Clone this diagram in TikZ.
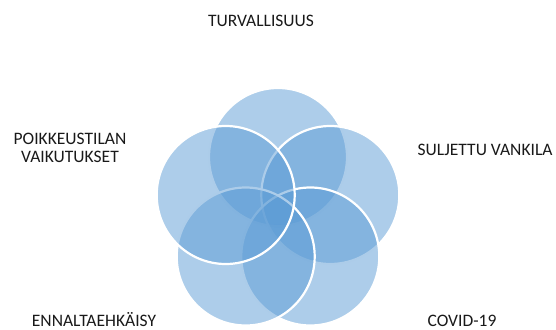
\documentclass[tikz,border=0pt]{standalone}
\usepackage{fontspec}
\setmainfont{Carlito}
\definecolor{vennblue}{RGB}{91,155,213}
\begin{document}
\begin{tikzpicture}[x=1pt,y=-1pt,
  venn/.style={circle, minimum size=138pt, inner sep=0pt, fill=vennblue, fill opacity=0.5, draw=white, line width=2.2pt},
  lbl/.style={font=\fontsize{17.5}{18.5}\selectfont, text=black!90, align=center, inner sep=0pt, anchor=base}]
\useasboundingbox (0,0) rectangle (556,329);
\node[venn] (c1) at (278,157) {};
\node[venn] (c2) at (330.3,195) {};
\node[venn] (c3) at (310.3,256.5) {};
\node[venn] (c4) at (245.7,256.5) {};
\node[venn] (c5) at (225.7,195) {};
\node[lbl] (t1) at (261,26.5) {TURVALLISUUS};
\node[lbl] (t2) at (485,155) {SULJETTU VANKILA};
\node[lbl] (t3) at (462,326) {COVID-19};
\node[lbl] (t4) at (94,326) {ENNALTAEHKÄISY};
\node[lbl] (t5a) at (70,144) {POIKKEUSTILAN};
\node[lbl] (t5b) at (70,162.5) {VAIKUTUKSET};
\end{tikzpicture}
\end{document}
